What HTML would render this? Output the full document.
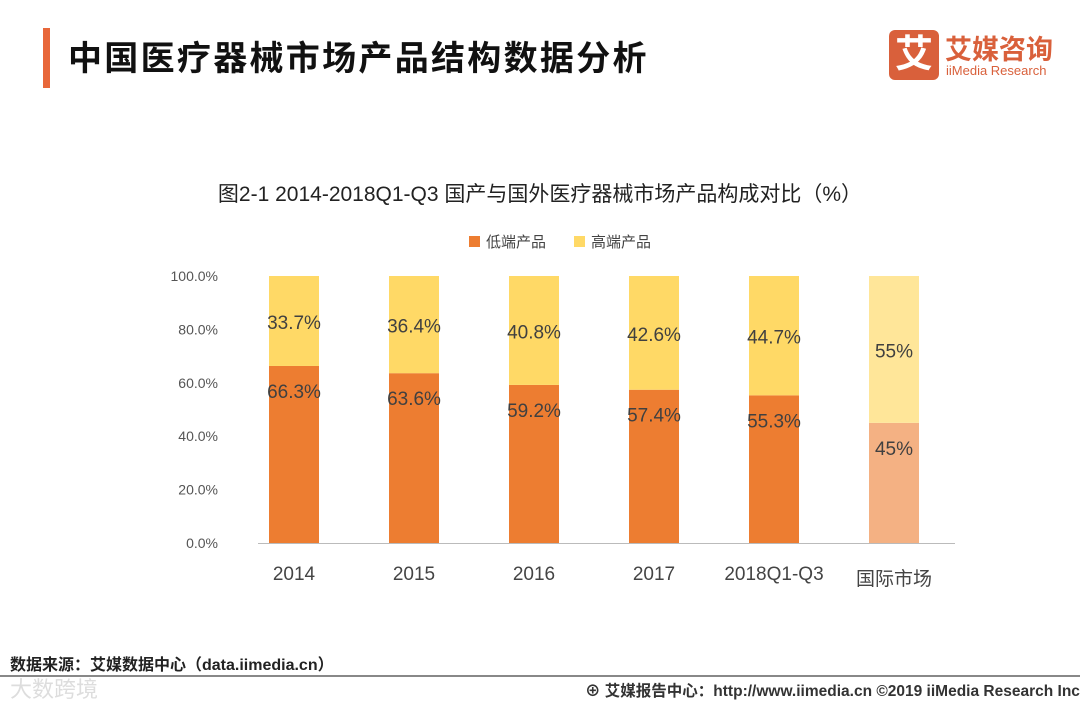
<!DOCTYPE html>
<html><head><meta charset="utf-8">
<style>
body{margin:0;width:1080px;height:702px;background:#fff;overflow:hidden;position:relative;font-family:"Liberation Sans","Noto Sans CJK SC",sans-serif;}
.abs{position:absolute;}
</style></head><body>
<div class="abs" style="left:43px;top:28px;width:7px;height:60px;background:#E8673A;"></div>
<div class="abs" style="left:68px;top:31px;font-size:34px;font-weight:bold;color:#111;letter-spacing:2.3px;">中国医疗器械市场产品结构数据分析</div>
<div class="abs" style="left:889px;top:30px;width:50px;height:50px;background:#D9603B;border-radius:6px;color:#fff;font-size:38px;font-weight:bold;text-align:center;line-height:50px;">艾</div>
<div class="abs" style="left:945px;top:28px;color:#D9603B;font-size:27px;font-weight:bold;">艾媒咨询</div>
<div class="abs" style="left:946px;top:63px;color:#D9603B;font-size:13px;">iiMedia Research</div>
<div class="abs" style="left:0;width:1080px;top:178px;text-align:center;font-size:21px;color:#222;">图2-1 2014-2018Q1-Q3 国产与国外医疗器械市场产品构成对比（%）</div>
<svg class="abs" style="left:0;top:0" width="1080" height="702" id="chart"></svg>
<div class="abs" style="left:10px;top:651px;font-size:16px;font-weight:bold;color:#222;">数据来源：艾媒数据中心（data.iimedia.cn）</div>
<div class="abs" style="left:0;top:675px;width:1080px;height:2px;background:#888;"></div>
<div class="abs" style="left:10px;top:672px;font-size:22px;color:#ddd;">大数跨境</div>
<div class="abs" style="left:585px;top:679px;font-size:15.5px;font-weight:bold;color:#333;">⊕ 艾媒报告中心：http://www.iimedia.cn ©2019 iiMedia Research Inc</div>
<script>
const categories=["2014","2015","2016","2017","2018Q1-Q3","国际市场"];
const lowValues=[66.3,63.6,59.2,57.4,55.3,45];
const highValues=[33.7,36.4,40.8,42.6,44.7,55];
const lowLabels=["66.3%","63.6%","59.2%","57.4%","55.3%","45%"];
const highLabels=["33.7%","36.4%","40.8%","42.6%","44.7%","55%"];
const yTicks=[0,20,40,60,80,100];
const svg=document.getElementById('chart');
const NS='http://www.w3.org/2000/svg';
const y0=543,y1=276,x0=234,step=120,bw=50;
function y(v){return y0-(v/100)*(y0-y1);}
function xc(i){return x0+step*(i+0.5);}
function el(tag,attrs,txt){const e=document.createElementNS(NS,tag);for(const k in attrs)e.setAttribute(k,attrs[k]);if(txt!==undefined)e.textContent=txt;svg.appendChild(e);return e;}
yTicks.forEach(t=>{const e=el('text',{x:218,y:y(t)+5,'text-anchor':'end','font-size':14,fill:'#555'},t.toFixed(1)+'%');

});
const ax=el('line',{x1:258,x2:955,y1:y0+0.5,y2:y0+0.5,stroke:'#bbb','stroke-width':1});


categories.forEach((c,i)=>{
 const intl=i===categories.length-1;
 const cx=xc(i);
 const lowTop=y(lowValues[i]);
 const highTop=y(lowValues[i]+highValues[i]);
 const b1=el('rect',{x:cx-bw/2,y:lowTop,width:bw,height:y0-lowTop,fill:intl?'#F4B183':'#ED7D31'});
 
 
 const b2=el('rect',{x:cx-bw/2,y:highTop,width:bw,height:lowTop-highTop,fill:intl?'#FFE699':'#FFD966'});
 
 
 const t1=el('text',{x:cx,y:lowTop+32,'text-anchor':'middle','font-size':19,fill:'#404040'},lowLabels[i]);
 
 
 const t2=el('text',{x:cx,y:(highTop+lowTop)/2+8,'text-anchor':'middle','font-size':19,fill:'#404040'},highLabels[i]);
 
 
 const xl=el('text',{x:cx,y:intl?585:580,'text-anchor':'middle','font-size':19,fill:'#444'},c);
 
 
});
[['低端产品','#ED7D31',469],['高端产品','#FFD966',574]].forEach(([n,c,x])=>{
 const r=el('rect',{x:x,y:236,width:11,height:11,fill:c});
 
 
 const t=el('text',{x:x+17,y:247,'font-size':15,fill:'#444'},n);
 
 
});
</script>
</body></html>
